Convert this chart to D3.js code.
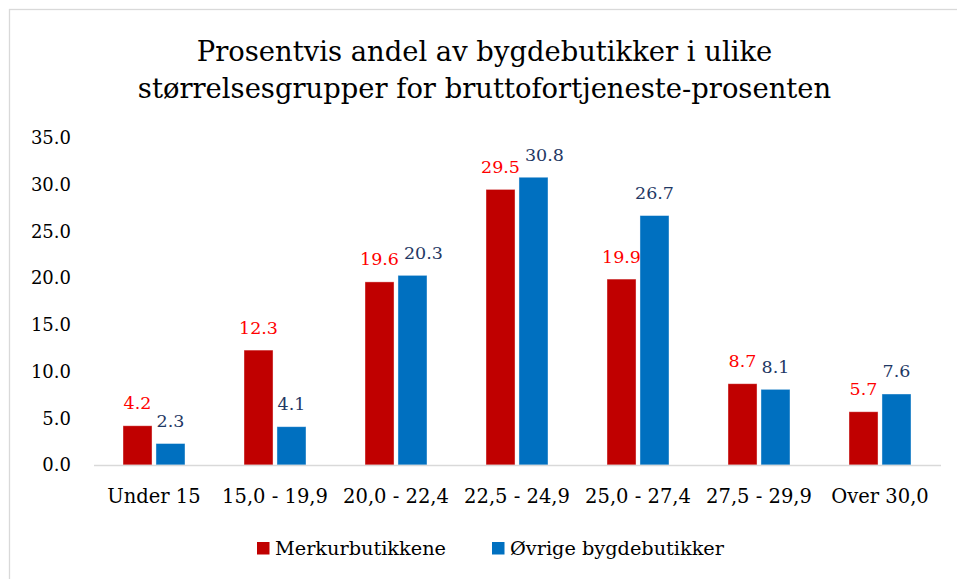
<!DOCTYPE html>
<html><head><meta charset="utf-8">
<script src="https://cdn.jsdelivr.net/npm/d3@7"></script>
<style>body{margin:0;background:#fff}svg{display:block}text{font-family:"DejaVu Serif",serif}</style>
</head><body><svg id="c" width="957" height="579"></svg>
<script>
const categories = ["Under 15","15,0 - 19,9","20,0 - 22,4","22,5 - 24,9","25,0 - 27,4","27,5 - 29,9","Over 30,0"];
const merkur = [4.2,12.3,19.6,29.5,19.9,8.7,5.7];
const ovrige = [2.3,4.1,20.3,30.8,26.7,8.1,7.6];
const seriesNames = ["Merkurbutikkene","Øvrige bygdebutikker"];
const yTicks = [0,5,10,15,20,25,30,35];
const titleLines = ["Prosentvis andel av bygdebutikker i ulike","størrelsesgrupper for bruttofortjeneste-prosenten"];

(function(){
const FONT = "DejaVu Serif";
const svg = d3.select("#c");
const barColors = ["#c00000","#0070c0"];
const labelColors = ["#ff0000","#1f3864"];

svg.append("rect").attr("x",9.5).attr("y",9.5).attr("width",1000).attr("height",1000)
  .attr("fill","#fff").attr("stroke","#d9d9d9").attr("stroke-width",1.3);

const pl=93.5,pr=940.5,pt=138,pb=465;
const x0 = d3.scaleBand().domain(categories).range([pl,pr]);
const x1 = d3.scaleBand().domain([0,1]).range([x0.bandwidth()/2-31,x0.bandwidth()/2+31]).paddingInner(0.12);
const y = d3.scaleLinear().domain([0,35]).range([pb,pt]);

svg.append("g").selectAll("text").data(titleLines).join("text")
  .attr("x",484.5).attr("y",(d,i)=>61+i*36.5).attr("text-anchor","middle")
  .attr("font-size",27.4).attr("fill","#000").text(d=>d);

const ya = svg.append("g").attr("transform",`translate(${pl-22.5},0)`)
  .call(d3.axisLeft(y).tickValues(yTicks).tickFormat(d3.format(".1f")).tickSize(0).tickPadding(0));
ya.select(".domain").remove();
ya.selectAll("text").attr("font-size",18).attr("fill","#000").attr("font-family",FONT);

const series=[merkur,ovrige];
const g = svg.append("g");
categories.forEach((c,i)=>{
  const labs=[];
  series.forEach((s,j)=>{
    const bx = x0(c)+x1(j);
    g.append("rect").attr("x",bx).attr("y",y(s[i])).attr("width",x1.bandwidth())
      .attr("height",y(0)-y(s[i])).attr("fill",barColors[j]).attr("stroke","#fff").attr("stroke-opacity",0.5).attr("stroke-width",0.8);
    labs.push(g.append("text").attr("x",bx+x1.bandwidth()/2).attr("y",y(s[i])-16.5).attr("text-anchor","middle")
      .attr("font-size",17.5).attr("fill",labelColors[j]).text(s[i].toFixed(1)));
  });
  // collision avoidance: push second label right if it overlaps the first
  const a=labs[0].node().getBBox(), b=labs[1].node().getBBox();
  const vOverlap = a.y < b.y+b.height && b.y < a.y+a.height;
  if (vOverlap && b.x < a.x+a.width+4) {
    const shift = a.x+a.width+5-b.x;
    labs[1].attr("x", +labs[1].attr("x")+shift);
  }
});

const xa = svg.append("g").attr("transform",`translate(0,${pb})`)
  .call(d3.axisBottom(x0).tickSize(0).tickPadding(24));
xa.select(".domain").attr("stroke","#d9d9d9").attr("stroke-width",1.5);
xa.selectAll("text").attr("font-size",19.5).attr("fill","#000").attr("font-family",FONT);

const legX=[257,492];
const leg = svg.append("g");
seriesNames.forEach((n,j)=>{
  leg.append("rect").attr("x",legX[j]).attr("y",542).attr("width",12.5).attr("height",12.5).attr("fill",barColors[j]);
  leg.append("text").attr("x",legX[j]+18).attr("y",555).attr("font-size",19.3).attr("fill","#000").text(n);
});
})();
</script></body></html>
